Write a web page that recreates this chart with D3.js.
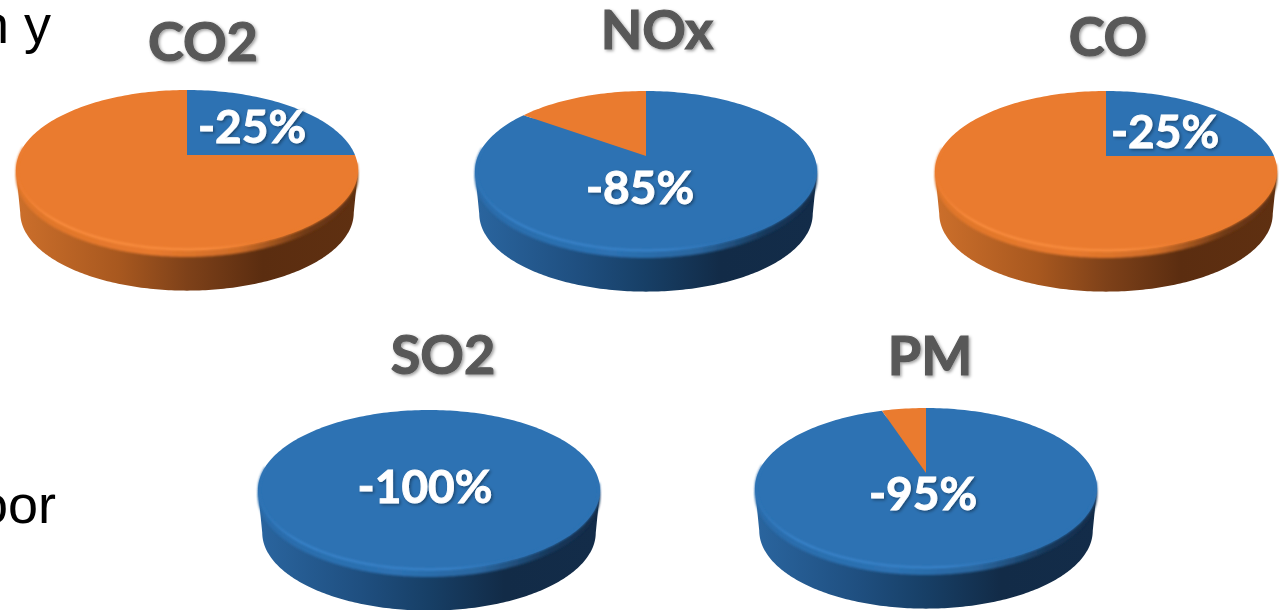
<!DOCTYPE html>
<html>
<head>
<meta charset="utf-8">
<script src="https://cdn.jsdelivr.net/npm/d3@7/dist/d3.min.js"></script>
<style>
  html, body { margin: 0; padding: 0; background: #fff; overflow: hidden; }
  svg { display: block; }
</style>
</head>
<body>
<svg id="chart" width="1286" height="610"></svg>
<script>
// Emission reductions by pollutant
const pollutants = ["CO2", "NOx", "CO", "SO2", "PM"];
const reductions = [25, 85, 25, 100, 95];
const reductionLabels = ["-25%", "-85%", "-25%", "-100%", "-95%"];

// Layout of each pie: apex of the slices, title anchor and label anchor
const apexX = [187, 646, 1106, 429, 926];
const apexY = [155, 156, 156, 475, 473];
const titleX = [203, 657, 1108, 443, 930];
const titleY = [61, 49, 56, 374, 375];
const labelX = [252, 640, 1165, 425, 923];
const labelY = [143, 204, 148, 503, 510];

const colors = { reduced: "#2d72b3", rest: "#ea7b2f" };
const wallStops = {
  reduced: ["#2a659f", "#1f4f80", "#173f66", "#122b47", "#132c49"],
  rest: ["#cc6f2b", "#a8581f", "#7e4119", "#5b2d10", "#5f3011"]
};
const shoulderStops = {
  reduced: ["#2b6cab", "#2d72b3", "#2a669f", "#17395c", "#132c49"],
  rest: ["#df762b", "#e87a2e", "#cf6d28", "#6f3a15", "#5f3011"]
};

const radiusX = 168;        // half width of the disc at the apex row
const backRise = 65;        // apex to back rim, in pixels
const frontDrop = 95;       // apex to front rim, in pixels
const thickness = 43;       // height of the disc wall
const tilt = (frontDrop - backRise) / (frontDrop + backRise);
const depth = backRise * (1 + tilt);
const widest = Math.asin(tilt);  // angle past three o'clock where the outline is widest

// Perspective projection of a point on the unit disc
function project(angle, r, cx, cy, lift, shrink) {
  const u = r * Math.sin(angle), v = -r * Math.cos(angle);
  const w = 1 - tilt * v;
  return [cx + shrink * radiusX * u / w, cy + lift + shrink * depth * v / w];
}

const line = d3.line();
const pie = d3.pie().sort(null).value(d => d);
const svg = d3.select("#chart");
const defs = svg.append("defs");

// Soft shadow used by the titles and labels
const textShadow = defs.append("filter").attr("id", "textShadow")
  .attr("x", "-20%").attr("y", "-20%").attr("width", "140%").attr("height", "140%");
textShadow.append("feDropShadow").attr("dx", 1.5).attr("dy", 1.5)
  .attr("stdDeviation", 1.4).attr("flood-color", "#000").attr("flood-opacity", 0.38);

const rimBlur = defs.append("filter").attr("id", "rimBlur")
  .attr("x", "-5%").attr("y", "-5%").attr("width", "110%").attr("height", "110%");
rimBlur.append("feGaussianBlur").attr("stdDeviation", 1);

// Horizontal gradients for the wall, the rounded shoulder and the bevel highlight
Object.keys(wallStops).forEach(key => {
  const offsets = [0, 0.3, 0.5, 0.72, 1];
  const grad = defs.append("linearGradient").attr("id", "wall-" + key);
  wallStops[key].forEach((c, i) => {
    grad.append("stop").attr("offset", offsets[i]).attr("stop-color", c);
  });
  const shoulder = defs.append("linearGradient").attr("id", "shoulder-" + key);
  shoulderStops[key].forEach((c, i) => {
    shoulder.append("stop").attr("offset", [0, 0.4, 0.65, 0.85, 1][i]).attr("stop-color", c);
  });
  const rim = defs.append("linearGradient").attr("id", "rim-" + key);
  const light = key === "reduced" ? "#3a84cb" : "#fb8f41";
  const base = colors[key];
  [[0, base], [0.12, light], [0.55, light], [0.72, base], [1, base]].forEach(([o, c]) => {
    rim.append("stop").attr("offset", o).attr("stop-color", c);
  });
});

const steps = d3.range(0, 181);
const sweep = d3.scaleLinear().domain([0, 180]);

pollutants.forEach((name, i) => {
  const cx = apexX[i], cy = apexY[i];
  const slices = pie([reductions[i], 100 - reductions[i]]);
  const g = svg.append("g").attr("class", "pie");

  // Key colour of the wall is the slice that covers the front of the disc
  const frontKey = reductions[i] >= 50 ? "reduced" : "rest";

  // Wall: between the widest points of the outline, top edge then bottom edge
  sweep.range([Math.PI / 2 + widest, 3 * Math.PI / 2 - widest]);
  const topEdge = steps.map(s => project(sweep(s), 1, cx, cy, 0, 1));
  const bottomEdge = steps.map(s => project(sweep(s), 1, cx, cy, thickness, 0.975));
  g.append("path")
    .attr("d", line(topEdge.concat(bottomEdge.reverse())) + "Z")
    .attr("fill", `url(#wall-${frontKey})`);

  // Rounded shoulder between the top face and the wall
  const ring = d3.range(0, 361).map(s => project(s * Math.PI / 180, 1, cx, cy, 7, 1));
  g.append("path")
    .attr("d", line(ring) + "Z")
    .attr("fill", `url(#shoulder-${frontKey})`)
    .attr("filter", "url(#rimBlur)");

  // Top face, slice by slice, starting at twelve o'clock and running clockwise
  slices.forEach((s, k) => {
    if (s.endAngle - s.startAngle <= 0) return;
    const key = k === 0 ? "reduced" : "rest";
    const n = Math.max(2, Math.ceil((s.endAngle - s.startAngle) * 40));
    const pts = d3.range(n + 1).map(j =>
      project(s.startAngle + (s.endAngle - s.startAngle) * j / n, 1, cx, cy, 0, 1));
    const full = s.endAngle - s.startAngle >= 2 * Math.PI - 1e-6;
    g.append("path")
      .attr("d", line(full ? pts : [[cx, cy], ...pts]) + "Z")
      .attr("fill", colors[key]);
  });

  // Bevel highlight along the front rim
  sweep.range([Math.PI / 2 + 0.1, 3 * Math.PI / 2 + 0.1]);
  g.append("path")
    .attr("d", line(steps.map(s => project(sweep(s), 0.995, cx, cy, 0, 1))))
    .attr("fill", "none")
    .attr("stroke", `url(#rim-${frontKey})`)
    .attr("stroke-width", 2)
    .attr("filter", "url(#rimBlur)");

  g.append("text")
    .attr("x", titleX[i]).attr("y", titleY[i])
    .attr("text-anchor", "middle")
    .attr("font-family", "Lato, sans-serif").attr("font-weight", 700)
    .attr("font-size", 54).attr("fill", "#595959")
    .attr("stroke", "#595959").attr("stroke-width", 1.2)
    .attr("filter", "url(#textShadow)")
    .text(name);

  g.append("text")
    .attr("x", labelX[i]).attr("y", labelY[i])
    .attr("text-anchor", "middle")
    .attr("font-family", "Lato, sans-serif").attr("font-weight", 700)
    .attr("font-size", 46).attr("fill", "#fff")
    .attr("stroke", "#fff").attr("stroke-width", 0.9)
    .attr("filter", "url(#textShadow)")
    .text(reductionLabels[i]);
});

// Ends of the running text that sits behind the charts on the slide
svg.append("text").attr("x", -21).attr("y", 43)
  .attr("font-family", "'Liberation Sans', sans-serif").attr("font-size", 54).attr("fill", "#000")
  .text("n y");
svg.append("text").attr("x", -22).attr("y", 523)
  .attr("font-family", "'Liberation Sans', sans-serif").attr("font-size", 54).attr("fill", "#000")
  .text("oor");
</script>
</body>
</html>
